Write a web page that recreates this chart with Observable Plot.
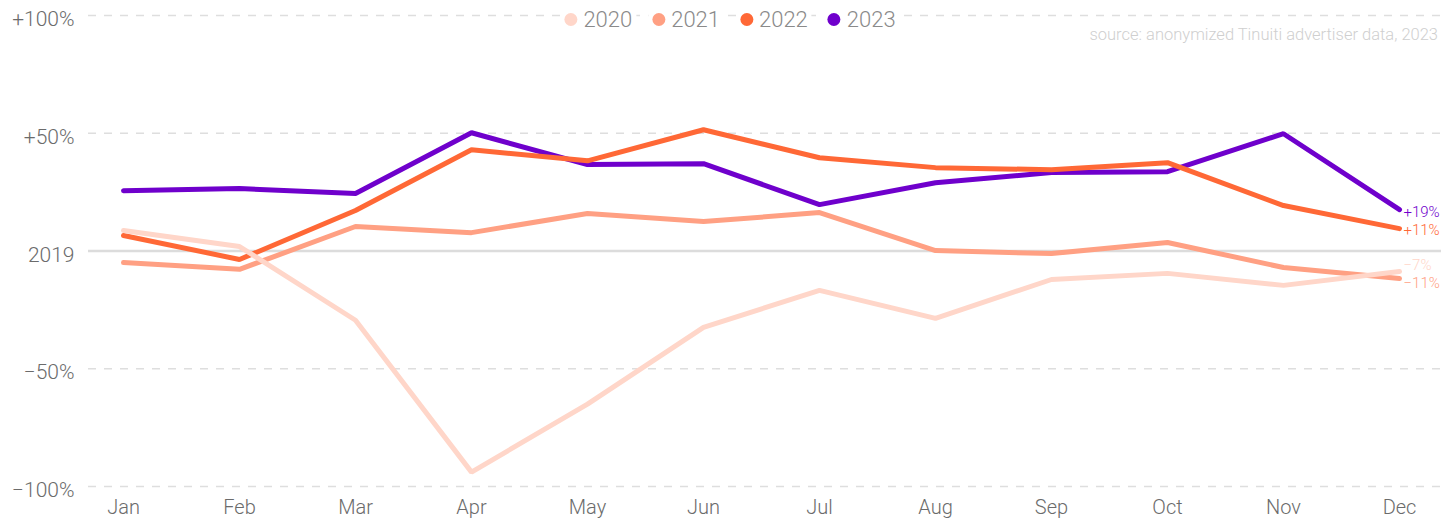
<!DOCTYPE html>
<html>
<head>
<meta charset="utf-8">
<script src="https://cdn.jsdelivr.net/npm/d3@7"></script>
<script src="https://cdn.jsdelivr.net/npm/@observablehq/plot@0.6"></script>
<style>
  html, body { margin: 0; padding: 0; background: #fff; }
  #wrap { position: relative; width: 1441px; height: 520px; font-family: Roboto, "Noto Sans", sans-serif; font-weight: 300; }
  #legend { position: absolute; top: 7px; left: 730px; transform: translateX(-50%); display: flex; gap: 12px; font-size: 22px; color: #8a8a8a; }
  #legend .item { display: flex; align-items: center; background: #fff; padding: 0 4px; }
  #legend .dot { width: 13px; height: 13px; border-radius: 50%; margin-right: 6px; }
  #source { position: absolute; top: 25px; right: 3px; font-size: 16.5px; color: #cfcfcf; background: #fff; }
  svg text { font-family: Roboto, "Noto Sans", sans-serif; font-weight: 300; }
</style>
</head>
<body>
<div id="wrap"></div>
<script>
const months = ["Jan","Feb","Mar","Apr","May","Jun","Jul","Aug","Sep","Oct","Nov","Dec"];
const years = ["2020","2021","2022","2023"];
const colors = ["#ffd6c9","#ffa083","#ff6836","#6f00cc"];
const v2020 = [8.7, 1.9, -29.4, -93.9, -65.0, -32.4, -16.7, -28.6, -12.1, -9.5, -14.6, -8.7];
const v2021 = [-4.9, -7.8, 10.4, 7.8, 15.9, 12.5, 16.3, 0.2, -1.1, 3.6, -7.0, -11.7];
const v2022 = [6.6, -3.6, 17.2, 43.0, 38.3, 51.5, 39.6, 35.4, 34.5, 37.5, 19.3, 9.5];
const v2023 = [25.6, 26.5, 24.4, 50.2, 36.7, 37.1, 19.7, 29.0, 33.3, 33.7, 49.8, 17.6];
const endLabels = ["\u22127%", "\u221211%", "+11%", "+19%"];
const yTicks = [-100, -50, 0, 50, 100];
const sourceText = "source: anonymized Tinuiti advertiser data, 2023";

const series = [v2020, v2021, v2022, v2023];
const rows = [];
years.forEach((yr, i) => months.forEach((m, j) => rows.push({year: yr, month: m, value: series[i][j]})));
const ends = years.map((yr, i) => ({year: yr, month: "Dec", value: series[i][11], label: endLabels[i]}));
const labelDy = {"2020": -6, "2021": 5, "2022": 1.5, "2023": 3};
const drawOrder = [...years].reverse();

const fmt = d => d === 0 ? "2019" : (d > 0 ? "+" + d + "%" : "\u2212" + Math.abs(d) + "%");

const marks = [
  Plot.ruleY(yTicks.filter(d => d !== 0), {stroke: "#dedede", strokeWidth: 1.5, strokeDasharray: "8,8", insetLeft: -35, insetRight: -42}),
  Plot.ruleY([0], {stroke: "#dcdcdc", strokeWidth: 2.5, insetLeft: -35, insetRight: -42}),
  Plot.axisY({ticks: yTicks, tickFormat: fmt, tickSize: 0, tickPadding: 49, fontSize: 21, fill: "#6b6b6b", dy: 4, label: null}),
  Plot.axisX({tickSize: 0, tickPadding: 13, fontSize: 20, fill: "#6b6b6b", label: null})
];
drawOrder.forEach(yr => {
  marks.push(Plot.line(rows.filter(r => r.year === yr), {x: "month", y: "value", stroke: colors[years.indexOf(yr)], strokeWidth: 5, strokeLinecap: "round", strokeLinejoin: "miter"}));
});
ends.forEach(e => {
  marks.push(Plot.text([e], {x: "month", y: "value", text: "label", fill: colors[years.indexOf(e.year)], textAnchor: "start", dx: 4, dy: labelDy[e.year], fontSize: 15}));
});

const chart = Plot.plot({
  width: 1441,
  height: 520,
  marginLeft: 123,
  marginRight: 42,
  marginTop: 15,
  marginBottom: 34,
  x: {type: "point", domain: months, padding: 0},
  y: {domain: [-100, 100]},
  marks
});

const wrap = document.getElementById("wrap");
wrap.appendChild(chart);

const legend = document.createElement("div");
legend.id = "legend";
years.forEach((yr, i) => {
  const item = document.createElement("div");
  item.className = "item";
  const dot = document.createElement("span");
  dot.className = "dot";
  dot.style.background = colors[i];
  const t = document.createElement("span");
  t.textContent = yr;
  item.appendChild(dot);
  item.appendChild(t);
  legend.appendChild(item);
});
wrap.appendChild(legend);

const src = document.createElement("div");
src.id = "source";
src.textContent = sourceText;
wrap.appendChild(src);
</script>
</body>
</html>
